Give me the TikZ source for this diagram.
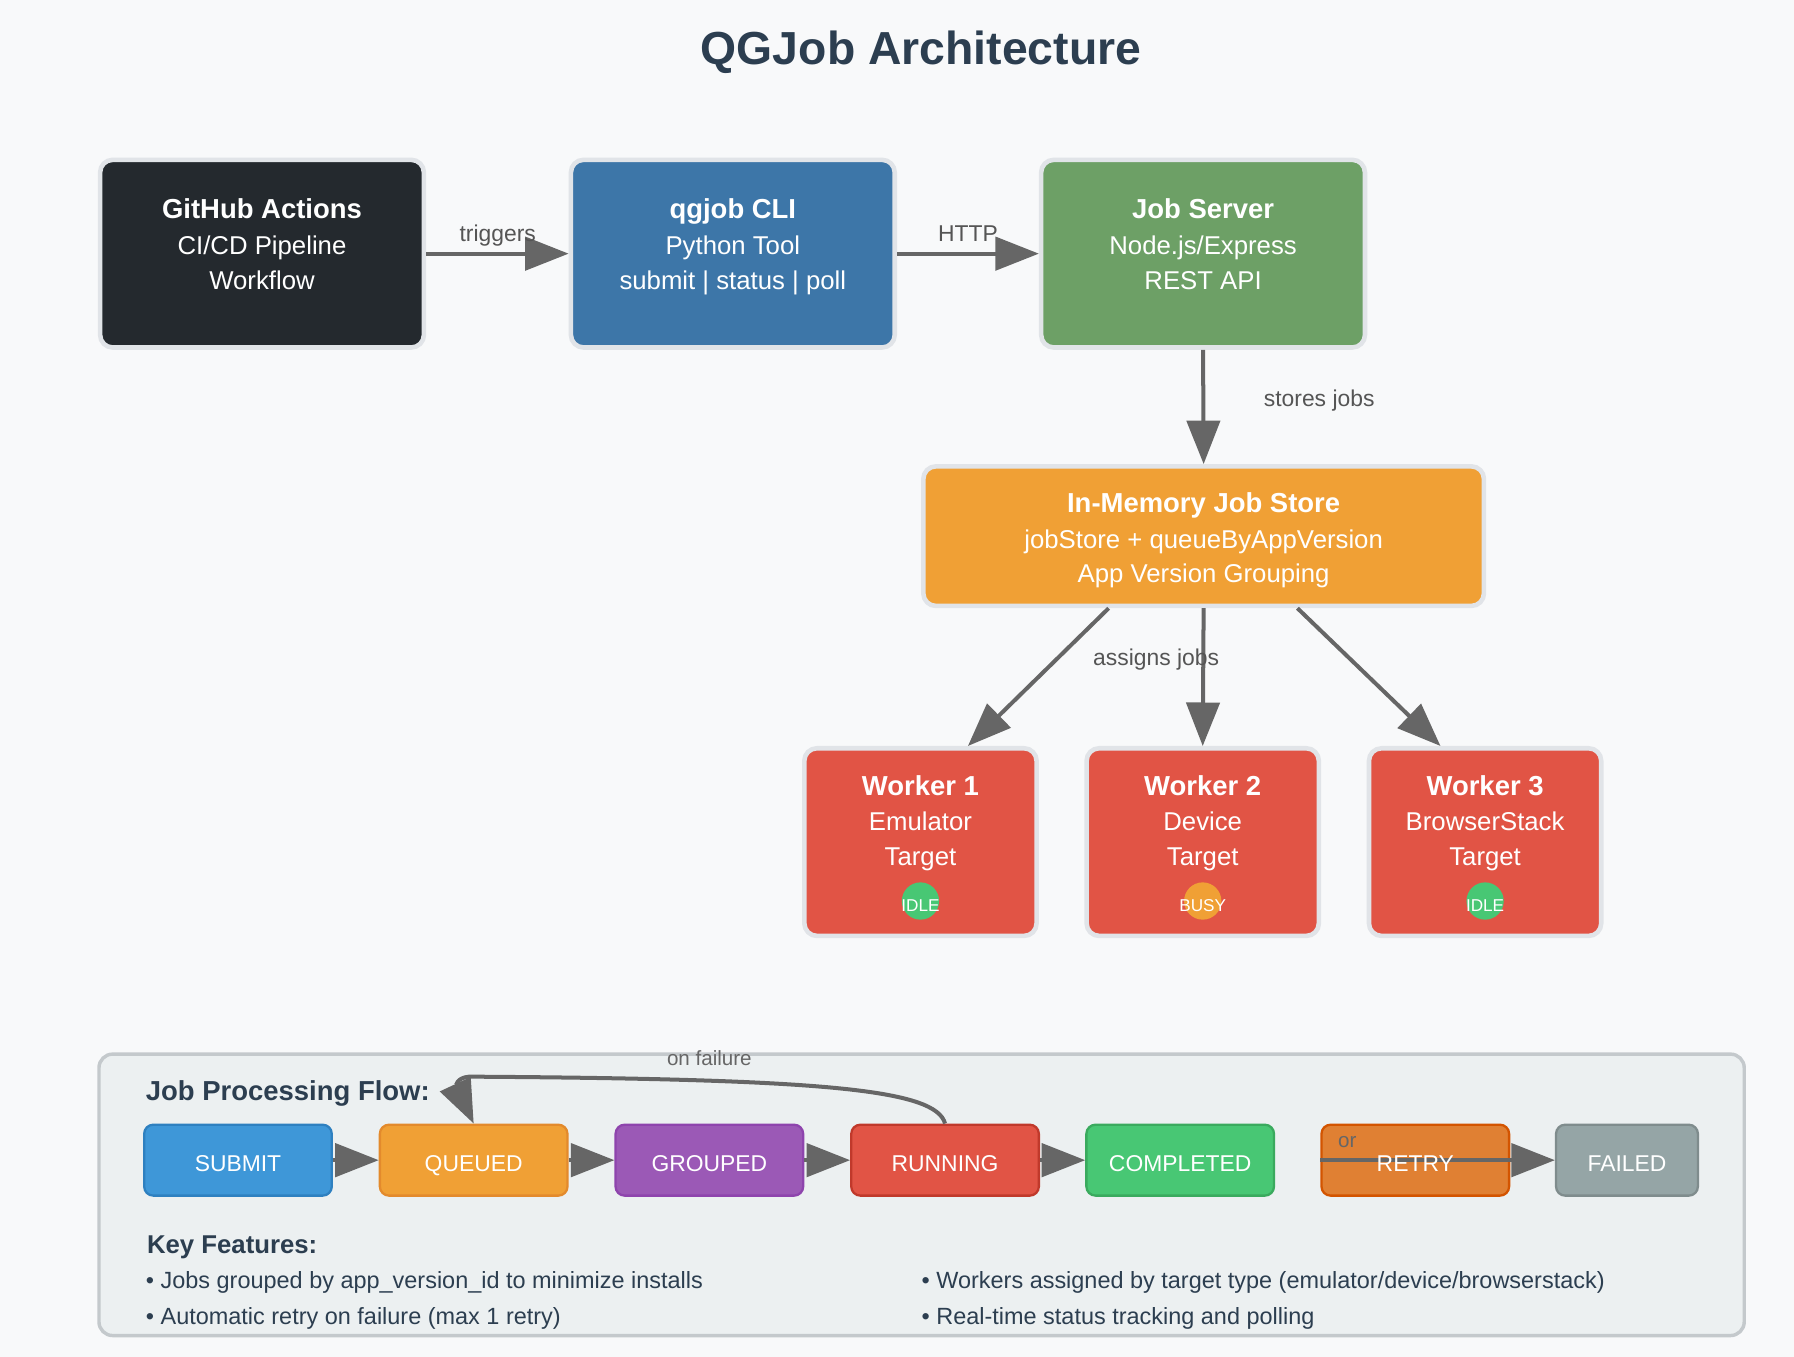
\documentclass[tikz,border=0pt]{standalone}
\usepackage{fontspec}
\setmainfont{Liberation Sans}
\usetikzlibrary{arrows.meta,calc}
\definecolor{bg}{HTML}{F8F9FA}
\definecolor{titlec}{HTML}{2C3E50}
\definecolor{boxline}{HTML}{E1E4E8}
\definecolor{ghc}{HTML}{24292E}
\definecolor{cliblue}{HTML}{3D76A8}
\definecolor{srvgreen}{HTML}{6DA066}
\definecolor{storeor}{HTML}{F0A035}
\definecolor{workred}{HTML}{E15445}
\definecolor{idlegreen}{HTML}{48C774}
\definecolor{arrowc}{HTML}{666666}
\definecolor{labc}{HTML}{555555}
\definecolor{panelfill}{HTML}{ECF0F1}
\definecolor{panelline}{HTML}{C4C9CC}
\definecolor{textdark}{HTML}{2C3E50}
\definecolor{sSubmit}{HTML}{3E97D8}\definecolor{bSubmit}{HTML}{2E80C0}
\definecolor{sQueued}{HTML}{F0A035}\definecolor{bQueued}{HTML}{E38A2C}
\definecolor{sGrouped}{HTML}{9B59B6}\definecolor{bGrouped}{HTML}{8E44AD}
\definecolor{sRunning}{HTML}{E15445}\definecolor{bRunning}{HTML}{C0392B}
\definecolor{sCompleted}{HTML}{48C774}\definecolor{bCompleted}{HTML}{3AAA5E}
\definecolor{sRetry}{HTML}{E08033}\definecolor{bRetry}{HTML}{D35400}
\definecolor{sFailed}{HTML}{95A5A6}\definecolor{bFailed}{HTML}{7F8C8D}
\begin{document}
\begin{tikzpicture}[x=1pt,y=-1pt,
  bigbox/.style={draw=boxline, line width=4pt, rounded corners=11pt, inner sep=0pt},
  topbox/.style={bigbox, minimum width=283pt, minimum height=164pt},
  workbox/.style={bigbox, fill=workred, minimum width=203pt, minimum height=164pt},
  ttl/.style={anchor=base, text=white, font=\fontsize{24}{28}\selectfont\bfseries},
  sub/.style={anchor=base, text=white, font=\fontsize{22.5}{27}\selectfont},
  lab/.style={anchor=base, text=labc, font=\fontsize{20}{24}\selectfont},
  conn/.style={draw=arrowc, line width=3.5pt, -{Triangle[length=38pt,width=29pt]}},
  stbox/.style={line width=2pt, rounded corners=8pt, minimum width=164pt, minimum height=62pt, inner sep=0pt},
  stlab/.style={anchor=base, text=white, font=\fontsize{20}{24}\selectfont},
  statdot/.style={circle, minimum size=32.6pt, inner sep=0pt},
  stattxt/.style={anchor=base, text=white, font=\fontsize{15}{18}\selectfont},
  bul/.style={anchor=base west, text=textdark, font=\fontsize{20.5}{24}\selectfont},
]
\useasboundingbox[fill=bg] (0,0) rectangle (1568,1186);

% title
\node[anchor=base, text=titlec, font=\fontsize{40.5}{48}\selectfont\bfseries] (title) at (805,56) {QGJob Architecture};

% top row
\node[topbox, fill=ghc] (gh) at (229,221.7) {};
\node[ttl] (gh1) at (229,191) {GitHub Actions};
\node[sub] (gh2) at (229,222) {CI/CD Pipeline};
\node[sub] (gh3) at (229,253) {Workflow};

\node[topbox, fill=cliblue] (cli) at (640.5,221.7) {};
\node[ttl] (cli1) at (640.5,191) {qgjob CLI};
\node[sub] (cli2) at (640.5,222) {Python Tool};
\node[sub] (cli3) at (640.5,253) {submit | status | poll};

\node[topbox, fill=srvgreen] (srv) at (1051.5,221.7) {};
\node[ttl] (srv1) at (1051.5,191) {Job Server};
\node[sub] (srv2) at (1051.5,222) {Node.js/Express};
\node[sub] (srv3) at (1051.5,253) {REST API};

\draw[conn] (gh.east) -- (cli.west);
\node[lab] (trig) at (435,211) {triggers};
\draw[conn] (cli.east) -- (srv.west);
\node[lab] (http) at (846,211) {HTTP};

% store
\node[bigbox, fill=storeor, minimum width=490pt, minimum height=122pt] (store) at (1052,468.6) {};
\node[ttl] (st1) at (1052,448) {In-Memory Job Store};
\node[sub] (st2) at (1052,479) {jobStore + queueByAppVersion};
\node[sub] (st3) at (1052,509.5) {App Version Grouping};

\draw[conn] (srv.south) -- (store.north);
\node[lab] (stores) at (1153,355) {stores jobs};

% workers
\node[workbox] (w1) at (804.5,736) {};
\node[ttl] (w1a) at (804.5,695) {Worker 1};
\node[sub] (w1b) at (804.5,725.5) {Emulator};
\node[sub] (w1c) at (804.5,756.5) {Target};
\node[statdot, fill=idlegreen] (w1d) at (804.5,787.5) {};
\node[stattxt] (w1e) at (804.5,797) {IDLE};

\node[workbox] (w2) at (1051.2,736) {};
\node[ttl] (w2a) at (1051.2,695) {Worker 2};
\node[sub] (w2b) at (1051.2,725.5) {Device};
\node[sub] (w2c) at (1051.2,756.5) {Target};
\node[statdot, fill=storeor] (w2d) at (1051.2,787.5) {};
\node[stattxt] (w2e) at (1051.2,797) {BUSY};

\node[workbox] (w3) at (1298,736) {};
\node[ttl] (w3a) at (1298,695) {Worker 3};
\node[sub] (w3b) at (1298,725.5) {BrowserStack};
\node[sub] (w3c) at (1298,756.5) {Target};
\node[statdot, fill=idlegreen] (w3d) at (1298,787.5) {};
\node[stattxt] (w3e) at (1298,797) {IDLE};

\draw[conn] ($(store.south)+(-83,0)$) -- ($(w1.north)+(41.5,0)$);
\draw[conn] (store.south) -- (w2.north);
\draw[conn] ($(store.south)+(82,0)$) -- ($(w3.north)+(-39,0)$);
\node[lab] (assign) at (1010.5,582) {assigns jobs};

% bottom panel
\node[draw=panelline, fill=panelfill, line width=3pt, rounded corners=12pt, minimum width=1438pt, minimum height=246pt, inner sep=0pt] (panel) at (805.5,1044.3) {};
\node[anchor=base west, text=textdark, font=\fontsize{24}{28}\selectfont\bfseries] (jpf) at (124,961.5) {Job Processing Flow:};

\node[stbox, fill=sSubmit, draw=bSubmit] (sub) at (208,1014) {};
\node[stlab] at (208,1023.5) {SUBMIT};
\node[stbox, fill=sQueued, draw=bQueued] (que) at (414,1014) {};
\node[stlab] at (414,1023.5) {QUEUED};
\node[stbox, fill=sGrouped, draw=bGrouped] (grp) at (620,1014) {};
\node[stlab] at (620,1023.5) {GROUPED};
\node[stbox, fill=sRunning, draw=bRunning] (run) at (826,1014) {};
\node[stlab] at (826,1023.5) {RUNNING};
\node[stbox, fill=sCompleted, draw=bCompleted] (cmp) at (1031.5,1014) {};
\node[stlab] at (1031.5,1023.5) {COMPLETED};
\node[stbox, fill=sRetry, draw=bRetry] (ret) at (1237,1014) {};
\node[stbox, fill=sFailed, draw=bFailed, minimum width=124pt] (fail) at (1422,1014) {};
\node[stlab] at (1422,1023.5) {FAILED};

\draw[conn] (sub.east) -- (que.west);
\draw[conn] (que.east) -- (grp.west);
\draw[conn] (grp.east) -- (run.west);
\draw[conn] (run.east) -- (cmp.west);
\draw[conn] (ret.west) -- (fail.west);
\node[stlab] (retlab) at (1237,1023.5) {RETRY};
\node[anchor=base west, text=arrowc, font=\fontsize{18}{22}\selectfont] (orl) at (1166,1003) {or};

\draw[conn] (run.north) .. controls (818,952) and (720,943) .. (410,941)
  .. controls (398,942) and (399,950) .. (que.north);
\node[anchor=base, text=arrowc, font=\fontsize{18}{22}\selectfont] (onf) at (620,931) {on failure};

\node[anchor=base west, text=textdark, font=\fontsize{22.5}{27}\selectfont\bfseries] (kf) at (125,1095.5) {Key Features:};
\node[bul] (b1) at (124,1126) {• Jobs grouped by app\_version\_id to minimize installs};
\node[bul] (b2) at (124,1158) {• Automatic retry on failure (max 1 retry)};
\node[bul] (b3) at (802,1126) {• Workers assigned by target type (emulator/device/browserstack)};
\node[bul] (b4) at (802,1158) {• Real-time status tracking and polling};
\end{tikzpicture}
\end{document}
